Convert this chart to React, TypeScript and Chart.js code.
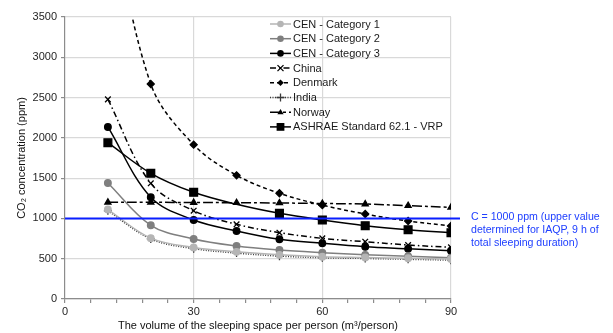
import React, { useEffect, useRef } from "react";
import { Chart, registerables } from "chart.js";
Chart.register(...registerables);

const volumes = [10, 20, 30, 40, 50, 60, 70, 80, 90];
const cenCat1 = [1110, 755, 640, 585, 548, 525, 515, 505, 497];
const cenCat2 = [1440, 915, 745, 658, 608, 575, 548, 530, 512];
const cenCat3 = [2135, 1262, 980, 844, 741, 691, 649, 624, 600];
const china = [2478, 1436, 1096, 927, 823, 753, 711, 670, 641];
const denmark = [5000, 2668, 1915, 1535, 1312, 1165, 1055, 968, 906];
const india = [1095, 745, 625, 570, 532, 512, 503, 493, 482];
const norway = [1200, 1200, 1198, 1195, 1192, 1185, 1179, 1158, 1138];
const ashrae = [1940, 1560, 1324, 1175, 1063, 980, 910, 860, 823];
const seriesNames = [
  "CEN - Category 1",
  "CEN - Category 2",
  "CEN - Category 3",
  "China",
  "Denmark",
  "India",
  "Norway",
  "ASHRAE Standard 62.1 - VRP",
];
const limitValue = 1000;
const limitLabel = [
  "C = 1000 ppm (upper value",
  "determined for IAQP, 9 h of",
  "total sleeping duration)",
];
const xTitle = "The volume of the sleeping space per person (m³/person)";
const yTitle = "CO₂ concentration (ppm)";

const FONT = "'Liberation Sans', Arial, Helvetica, sans-serif";

function drawMarker(ctx: CanvasRenderingContext2D, style: string, x: number, y: number, r: number, color: string) {
  ctx.save();
  ctx.setLineDash([]);
  ctx.fillStyle = color;
  ctx.strokeStyle = color;
  ctx.lineWidth = 1.3;
  ctx.beginPath();
  if (style === "circle") {
    ctx.arc(x, y, r, 0, Math.PI * 2);
    ctx.fill();
  } else if (style === "rect") {
    const s = Math.SQRT1_2 * r;
    ctx.rect(x - s, y - s, 2 * s, 2 * s);
    ctx.fill();
  } else if (style === "rectRot") {
    ctx.moveTo(x - r, y);
    ctx.lineTo(x, y - r);
    ctx.lineTo(x + r, y);
    ctx.lineTo(x, y + r);
    ctx.closePath();
    ctx.fill();
  } else if (style === "triangle") {
    ctx.moveTo(x, y - r);
    ctx.lineTo(x + r * 0.95, y + r * 0.6);
    ctx.lineTo(x - r * 0.95, y + r * 0.6);
    ctx.closePath();
    ctx.fill();
  } else if (style === "cross") {
    ctx.moveTo(x - r, y);
    ctx.lineTo(x + r, y);
    ctx.moveTo(x, y - r);
    ctx.lineTo(x, y + r);
    ctx.stroke();
  } else if (style === "crossRot") {
    const s = r * 0.75;
    ctx.moveTo(x - s, y - s);
    ctx.lineTo(x + s, y + s);
    ctx.moveTo(x + s, y - s);
    ctx.lineTo(x - s, y + s);
    ctx.stroke();
  }
  ctx.restore();
}

const legendPlugin = {
  id: "customLegend",
  afterDatasetsDraw(chart: any) {
    const ctx: CanvasRenderingContext2D = chart.ctx;
    const x0 = 270;
    const y0 = 24;
    const dy = 14.7;
    chart.data.datasets.forEach((ds: any, i: number) => {
      const y = y0 + i * dy;
      ctx.save();
      ctx.strokeStyle = ds.borderColor;
      ctx.lineWidth = ds.borderWidth;
      ctx.setLineDash(ds.borderDash || []);
      ctx.beginPath();
      ctx.moveTo(x0, y);
      ctx.lineTo(x0 + 21, y);
      ctx.stroke();
      ctx.restore();
      const r = ds.pointStyle === "rect" ? 5.5 : ds.pointStyle === "cross" || ds.pointStyle === "crossRot" ? 4 : 3.3;
      drawMarker(ctx, ds.pointStyle, x0 + 10.5, y, r, ds.pointBackgroundColor);
      ctx.save();
      ctx.fillStyle = "#1a1a1a";
      ctx.font = `11px ${FONT}`;
      ctx.textBaseline = "middle";
      ctx.textAlign = "left";
      ctx.fillText(ds.label, x0 + 23, y + 0.5);
      ctx.restore();
    });
  },
};

const limitPlugin = {
  id: "limitLine",
  afterDatasetsDraw(chart: any) {
    const ctx: CanvasRenderingContext2D = chart.ctx;
    const area = chart.chartArea;
    const y = chart.scales.y.getPixelForValue(limitValue);
    ctx.save();
    ctx.strokeStyle = "#0a1fff";
    ctx.lineWidth = 2;
    ctx.beginPath();
    ctx.moveTo(area.left, y);
    ctx.lineTo(area.right + 9, y);
    ctx.stroke();
    ctx.fillStyle = "#2040ff";
    ctx.font = `10.6px ${FONT}`;
    ctx.textBaseline = "middle";
    ctx.textAlign = "left";
    limitLabel.forEach((t, i) => {
      ctx.fillText(t, area.right + 20, y - 1 + i * 13);
    });
    ctx.restore();
  },
};

function mk(label: string, values: number[], color: string, dash: number[], pointStyle: string, radius: number | number[]) {
  return {
    label,
    data: volumes.map((v, i) => ({ x: v, y: values[i] })),
    borderColor: color,
    backgroundColor: color,
    pointBackgroundColor: color,
    pointBorderColor: color,
    borderWidth: 1.5,
    borderDash: dash,
    pointStyle,
    pointRadius: radius,
    pointBorderWidth: 1.3,
    tension: 0.35,
    fill: false,
  };
}

export default function App() {
  const ref = useRef<HTMLCanvasElement | null>(null);
  useEffect(() => {
    if (!ref.current) return;
    Chart.defaults.font.family = FONT;
    const chart = new Chart(ref.current, {
      type: "line",
      data: {
        datasets: [
          mk(seriesNames[0], cenCat1, "#b5b5b5", [], "circle", 3.3),
          mk(seriesNames[1], cenCat2, "#7f7f7f", [], "circle", 3.3),
          mk(seriesNames[2], cenCat3, "#000000", [], "circle", 3.3),
          mk(seriesNames[3], china, "#000000", [6, 3, 1.5, 3], "crossRot", 4),
          mk(seriesNames[4], denmark, "#000000", [4, 3], "rectRot", 3.5),
          mk(seriesNames[5], india, "#3a3a3a", [1, 1.5], "cross", 4),
          mk(seriesNames[6], norway, "#000000", [10, 3, 3, 3], "triangle", 3.5),
          mk(seriesNames[7], ashrae, "#000000", [], "rect", [5.5, 5.5, 5.5, 0, 5.5, 5.5, 5.5, 5.5, 5.5]),
        ] as any,
      },
      options: {
        animation: false,
        responsive: true,
        maintainAspectRatio: false,
        layout: { padding: { left: 0, top: 17, right: 162, bottom: 0 } },
        plugins: { legend: { display: false }, tooltip: { enabled: false } },
        scales: {
          x: {
            type: "linear",
            min: 0,
            max: 90,
            ticks: {
              stepSize: 6,
              autoSkip: false,
              maxRotation: 0,
              color: "#262626",
              font: { size: 11 },
              padding: 2,
              callback: (v: any) => (Number(v) % 30 === 0 ? String(v) : ""),
            },
            grid: {
              color: (c: any) => (c.tick && c.tick.value % 30 === 0 && c.tick.value !== 0 ? "#d9d9d9" : "rgba(0,0,0,0)"),
              tickColor: "#8c8c8c",
              tickLength: 4,
              lineWidth: 1.2,
            },
            border: { color: "#8c8c8c", width: 1.2 },
            title: { display: true, text: xTitle, color: "#111", font: { size: 11 }, padding: { top: 0, bottom: 0 } },
            afterFit: (s: any) => {
              s.height = 34;
            },
          },
          y: {
            min: 0,
            max: 3500,
            ticks: {
              stepSize: 500,
              color: "#262626",
              font: { size: 11 },
              padding: 4,
              callback: (v: any) => String(v),
            },
            grid: { color: "#d9d9d9", tickColor: "#8c8c8c", tickLength: 4, lineWidth: 1.2 },
            border: { color: "#8c8c8c", width: 1.2 },
            title: { display: true, text: yTitle, color: "#111", font: { size: 11 }, padding: { top: 15, bottom: 0 } },
            afterFit: (s: any) => {
              s.width = 65;
            },
          },
        },
      } as any,
      plugins: [limitPlugin, legendPlugin],
    });
    return () => chart.destroy();
  }, []);
  return (
    <div style={{ position: "fixed", left: 0, top: 0, width: 613, height: 333, background: "#fff" }}>
      <canvas ref={ref} />
    </div>
  );
}
